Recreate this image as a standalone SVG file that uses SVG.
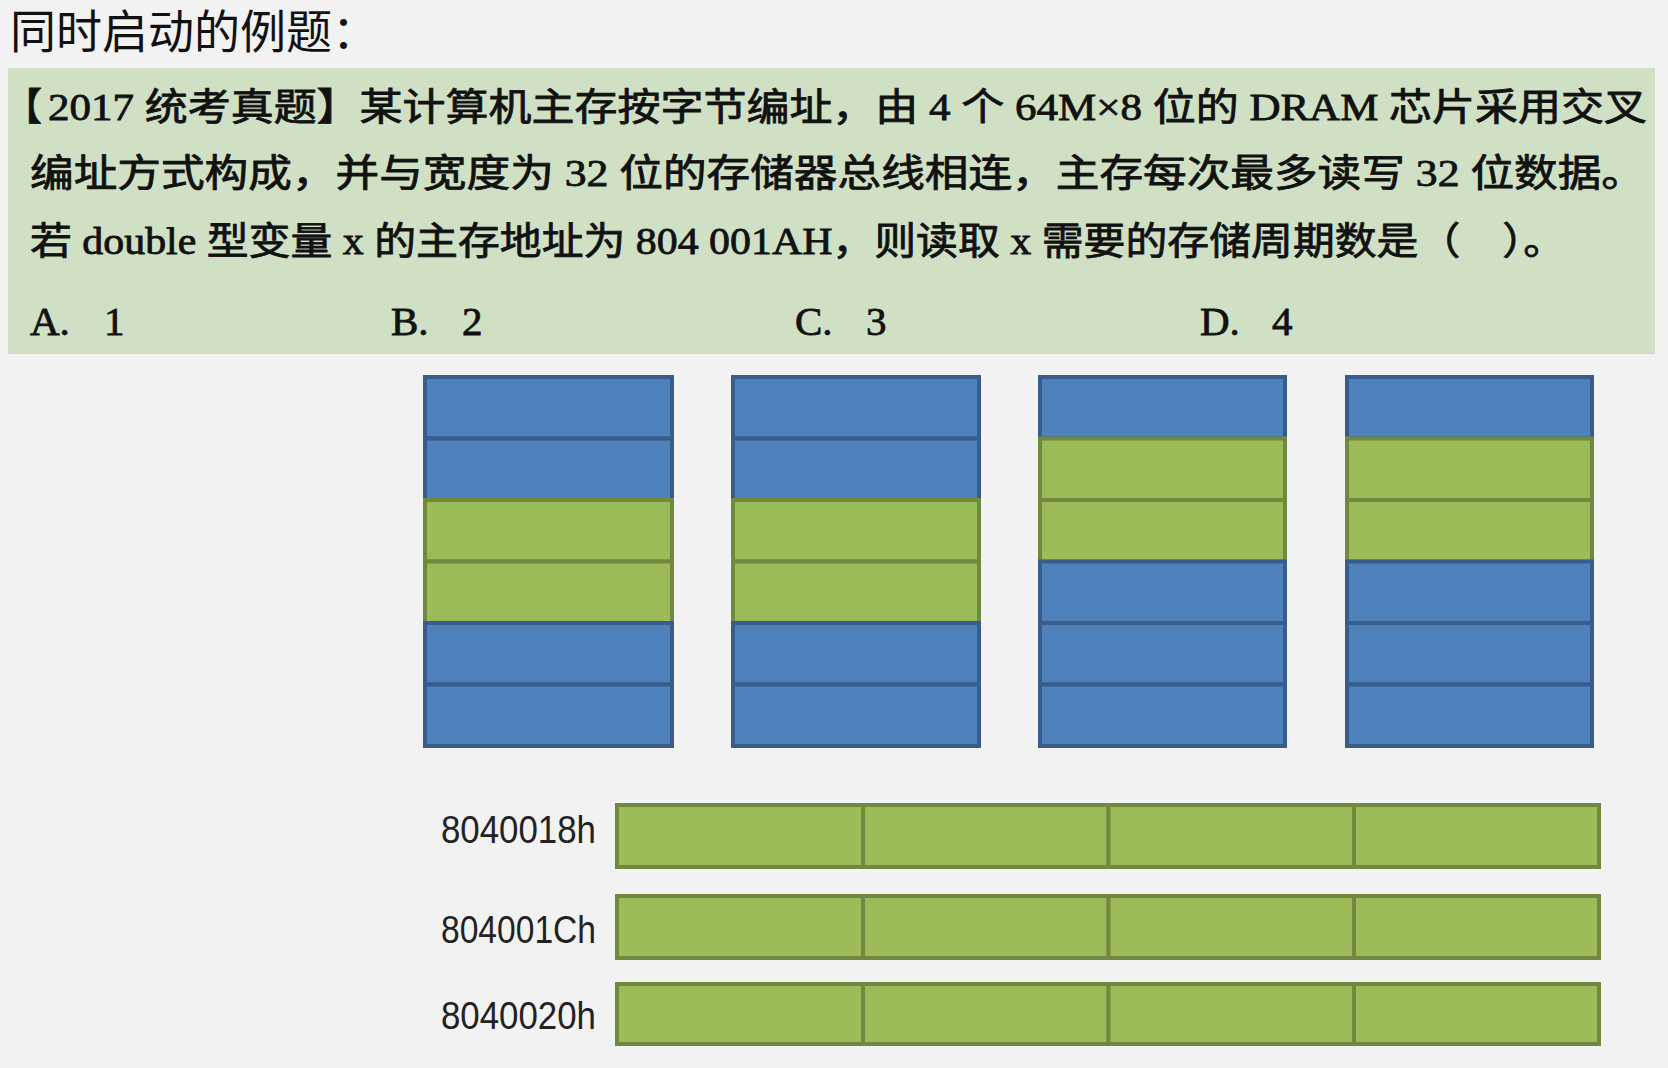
<svg xmlns="http://www.w3.org/2000/svg" width="1668" height="1068" viewBox="0 0 1668 1068">
<style>
.bg{fill:#f2f2f2}
.panel{fill:#cfe0c4}
.title{font-family:"Noto Sans CJK SC","Noto Sans",sans-serif;font-size:46px;font-weight:400;fill:#111}
.q{font-family:"Liberation Serif","Noto Sans CJK SC",serif;font-size:38px;fill:#111;stroke:#111;stroke-width:0.8}
.opt{font-family:"Liberation Serif","Noto Sans CJK SC",serif;font-size:41px;fill:#111;stroke:#111;stroke-width:0.8}
.b{fill:#4f81bd;stroke:#385d8a;stroke-width:4}
.g{fill:#9bbb59;stroke:#71893f;stroke-width:4}
.addr{font-family:"Liberation Sans Narrow","Liberation Sans",sans-serif;font-size:38px;fill:#222}
</style>
<rect class="bg" x="0" y="0" width="1668" height="1068"/>
<text class="title" x="10" y="48">同时启动的例题：</text>
<g id="question">
<rect class="panel" x="8" y="68" width="1647" height="286"/>
<text class="q" x="4" y="120">【</text>
<text class="q" x="48" y="120" textLength="1599" lengthAdjust="spacingAndGlyphs">2017 统考真题】某计算机主存按字节编址，由 4 个 64M×8 位的 DRAM 芯片采用交叉</text>
<text class="q" x="30" y="186" textLength="1615" lengthAdjust="spacingAndGlyphs">编址方式构成，并与宽度为 32 位的存储器总线相连，主存每次最多读写 32 位数据。</text>
<text class="q" x="30" y="254" textLength="1535" lengthAdjust="spacingAndGlyphs">若 double 型变量 x 的主存地址为 804 001AH，则读取 x 需要的存储周期数是（　）。</text>
<text class="opt" y="335"><tspan x="30">A.</tspan><tspan x="104">1</tspan><tspan x="391">B.</tspan><tspan x="462">2</tspan><tspan x="795">C.</tspan><tspan x="866">3</tspan><tspan x="1200">D.</tspan><tspan x="1272">4</tspan></text>
</g>
<g id="bank0">
<rect class="b" x="425" y="377" width="247" height="61.5"/>
<rect class="b" x="425" y="438.5" width="247" height="61.5"/>
<rect class="g" x="425" y="500" width="247" height="61.5"/>
<rect class="g" x="425" y="561.5" width="247" height="61.5"/>
<rect class="b" x="425" y="623" width="247" height="61.5"/>
<rect class="b" x="425" y="684.5" width="247" height="61.5"/>
</g>
<g id="bank1">
<rect class="b" x="733" y="377" width="246" height="61.5"/>
<rect class="b" x="733" y="438.5" width="246" height="61.5"/>
<rect class="g" x="733" y="500" width="246" height="61.5"/>
<rect class="g" x="733" y="561.5" width="246" height="61.5"/>
<rect class="b" x="733" y="623" width="246" height="61.5"/>
<rect class="b" x="733" y="684.5" width="246" height="61.5"/>
</g>
<g id="bank2">
<rect class="b" x="1040" y="377" width="245" height="61.5"/>
<rect class="g" x="1040" y="438.5" width="245" height="61.5"/>
<rect class="g" x="1040" y="500" width="245" height="61.5"/>
<rect class="b" x="1040" y="561.5" width="245" height="61.5"/>
<rect class="b" x="1040" y="623" width="245" height="61.5"/>
<rect class="b" x="1040" y="684.5" width="245" height="61.5"/>
</g>
<g id="bank3">
<rect class="b" x="1347" y="377" width="245" height="61.5"/>
<rect class="g" x="1347" y="438.5" width="245" height="61.5"/>
<rect class="g" x="1347" y="500" width="245" height="61.5"/>
<rect class="b" x="1347" y="561.5" width="245" height="61.5"/>
<rect class="b" x="1347" y="623" width="245" height="61.5"/>
<rect class="b" x="1347" y="684.5" width="245" height="61.5"/>
</g>
<g id="word-8040018h">
<text class="addr" x="441" y="843" textLength="155" lengthAdjust="spacingAndGlyphs">8040018h</text>
<rect class="g" x="617" y="805" width="246" height="62"/>
<rect class="g" x="863" y="805" width="245.5" height="62"/>
<rect class="g" x="1108.5" y="805" width="245.5" height="62"/>
<rect class="g" x="1354" y="805" width="245" height="62"/>
</g>
<g id="word-804001Ch">
<text class="addr" x="441" y="943" textLength="155" lengthAdjust="spacingAndGlyphs">804001Ch</text>
<rect class="g" x="617" y="896" width="246" height="62"/>
<rect class="g" x="863" y="896" width="245.5" height="62"/>
<rect class="g" x="1108.5" y="896" width="245.5" height="62"/>
<rect class="g" x="1354" y="896" width="245" height="62"/>
</g>
<g id="word-8040020h">
<text class="addr" x="441" y="1029" textLength="155" lengthAdjust="spacingAndGlyphs">8040020h</text>
<rect class="g" x="617" y="984" width="246" height="60"/>
<rect class="g" x="863" y="984" width="245.5" height="60"/>
<rect class="g" x="1108.5" y="984" width="245.5" height="60"/>
<rect class="g" x="1354" y="984" width="245" height="60"/>
</g>
<g id="connectors"/>
</svg>
